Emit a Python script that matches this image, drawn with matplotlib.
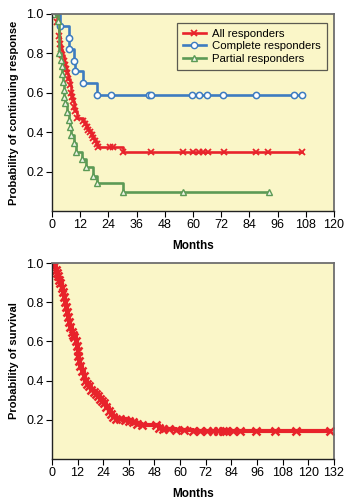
import numpy as np
import matplotlib
matplotlib.use("Agg")
import matplotlib.pyplot as plt

plt.rcParams["font.family"] = ["Liberation Sans", "DejaVu Sans"]

# --- top panel: duration of response (months, probability) ---
all_t = [0, 2.0, 3.0, 3.5, 4.0, 4.5, 5.0, 5.5, 6.0, 6.5, 7.0, 7.5, 8.0, 8.5, 9.0,
         9.5, 10.0, 10.6, 13.4, 14.1, 14.8, 15.5, 16.2, 17.0, 17.7, 18.4, 19.1,
         19.8, 30.4]
all_p = [1.0, 0.96, 0.89, 0.85, 0.82, 0.79, 0.76, 0.74, 0.72, 0.70, 0.67, 0.64,
         0.60, 0.58, 0.56, 0.53, 0.51, 0.47, 0.455, 0.44, 0.425, 0.41, 0.40,
         0.385, 0.37, 0.355, 0.34, 0.327, 0.30]
all_cens_t = [24.8, 26.2, 42.0, 55.6, 59.9, 62.7, 64.4, 66.5, 73.2, 86.7, 92.0, 106.6]
all_cens_p = [0.327, 0.327, 0.30, 0.30, 0.30, 0.30, 0.30, 0.30, 0.30, 0.30, 0.30, 0.30]
all_end = 106.6

cr_t = [0, 3.3, 7.3, 9.2, 9.9, 13.4, 19.1]
cr_p = [1.0, 0.94, 0.82, 0.76, 0.71, 0.65, 0.59]
cr_mark_t = [0, 3.5, 7.3, 7.3, 9.2, 9.9, 13.4, 19.1, 25.0, 41.3, 42.0, 59.7,
             62.7, 66.0, 72.9, 86.7, 102.9, 106.6]
cr_mark_p = [1.0, 0.94, 0.88, 0.82, 0.76, 0.71, 0.65, 0.59, 0.59, 0.59, 0.59,
             0.59, 0.59, 0.59, 0.59, 0.59, 0.59, 0.59]
cr_end = 106.6

pr_t = [0, 2.8, 3.1, 4.0, 4.4, 4.7, 5.0, 5.4, 6.4, 7.1, 7.5, 8.1, 9.2, 10.3,
        12.7, 14.6, 17.3, 19.2, 30.3]
pr_p = [1.0, 0.966, 0.80, 0.766, 0.695, 0.657, 0.58, 0.546, 0.504, 0.462,
        0.425, 0.386, 0.343, 0.30, 0.262, 0.222, 0.18, 0.14, 0.098]
pr_mark_t = [0.4, 2.8, 3.1, 4.0, 4.4, 4.4, 4.7, 5.0, 5.0, 5.4, 6.4, 7.1, 7.5,
             8.1, 9.2, 10.3, 12.7, 14.6, 17.3, 19.2, 30.3, 55.6, 92.4]
pr_mark_p = [1.0, 0.966, 0.80, 0.766, 0.738, 0.695, 0.657, 0.614, 0.58, 0.546,
             0.504, 0.462, 0.425, 0.386, 0.343, 0.30, 0.262, 0.222, 0.18, 0.14,
             0.098, 0.098, 0.098]
pr_end = 92.4

# --- bottom panel: overall survival ---
surv_t = [0, 1.0, 2.0, 2.5, 3.0, 3.5, 4.0, 4.5, 5.0, 5.5, 6.2, 6.6, 7.0, 7.5,
          8.0, 8.6, 9.2, 9.8, 10.5, 11.2, 11.6, 12.0, 12.4, 12.8, 13.2, 14.0,
          14.8, 15.5, 16.5, 17.5, 18.5, 19.5, 20.5, 21.5, 22.5, 23.5, 24.5,
          25.5, 26.5, 27.5, 28.5, 30.0, 32.0, 34.0, 36.0, 38.0, 40.0, 42.0,
          48.5, 50.0, 52.0, 55.0, 58.0, 62.0, 66.0]
surv_p = [1.0, 0.985, 0.965, 0.95, 0.935, 0.915, 0.90, 0.875, 0.85, 0.825,
          0.80, 0.775, 0.75, 0.725, 0.70, 0.675, 0.65, 0.635, 0.62, 0.60,
          0.575, 0.55, 0.525, 0.50, 0.475, 0.45, 0.425, 0.40, 0.385, 0.37,
          0.35, 0.34, 0.33, 0.32, 0.305, 0.295, 0.285, 0.265, 0.245, 0.23,
          0.215, 0.205, 0.205, 0.20, 0.195, 0.19, 0.18, 0.175, 0.175, 0.16,
          0.155, 0.155, 0.15, 0.148, 0.141]
surv_cens_t = [69.3, 72.4, 75.5, 77.8, 80.2, 81.7, 84.8, 87.9, 95.7, 104.3,
               114.4, 130.0]
surv_cens_p = [0.141] * 12
surv_end = 130.0

RED = "#e8232b"
BLUE = "#3d7cc0"
GREEN = "#5c9a55"
BG = "#faf6c8"


def km_step(ax, t, p, end, color, lw=1.9):
    ax.step(list(t) + [end], list(p) + [p[-1]], where="post", color=color, lw=lw)


def style_axes(ax, xmax, ylabel):
    ax.set_facecolor(BG)
    ax.set_xlim(0, xmax)
    ax.set_ylim(0, 1.0)
    ax.set_xticks(np.arange(0, xmax + 1, 12))
    ax.set_yticks([0.2, 0.4, 0.6, 0.8, 1.0])
    ax.set_yticklabels(["0.2", "0.4", "0.6", "0.8", "1.0"])
    ax.tick_params(direction="out", length=4, labelsize=9, pad=2,
                   top=False, right=False)
    for side in ["left", "bottom"]:
        ax.spines[side].set_color("#222222")
        ax.spines[side].set_linewidth(1.0)
    for side in ["top", "right"]:
        ax.spines[side].set_color("#6e6e6e")
        ax.spines[side].set_linewidth(1.3)
    ax.set_xlabel("Months", fontsize=8.5, fontweight="bold", labelpad=6)
    ax.set_ylabel(ylabel, fontsize=8, fontweight="bold", labelpad=5)


fig = plt.figure(figsize=(3.53, 5.0), dpi=100)
ax1 = fig.add_axes([0.147, 0.578, 0.799, 0.394])
ax2 = fig.add_axes([0.147, 0.082, 0.799, 0.392])

# Top panel
km_step(ax1, all_t, all_p, all_end, RED)
ax1.plot(all_t[1:] + all_cens_t, all_p[1:] + all_cens_p, ls="none", marker="x",
         ms=4.5, mew=1.3, color=RED)
km_step(ax1, cr_t, cr_p, cr_end, BLUE)
ax1.plot(cr_mark_t, cr_mark_p, ls="none", marker="o", ms=4.5, mew=1.1,
         mfc="white", mec=BLUE)
km_step(ax1, pr_t, pr_p, pr_end, GREEN)
ax1.plot(pr_mark_t, pr_mark_p, ls="none", marker="^", ms=5, mew=1.0,
         mfc="#eef3e6", mec=GREEN)

h_all, = ax1.plot([], [], color=RED, lw=1.9, marker="x", ms=4.5, mew=1.3)
h_cr, = ax1.plot([], [], color=BLUE, lw=1.9, marker="o", ms=4.5, mfc="white", mec=BLUE)
h_pr, = ax1.plot([], [], color=GREEN, lw=1.9, marker="^", ms=5, mfc="#eef3e6", mec=GREEN)
leg = ax1.legend([h_all, h_cr, h_pr],
                 ["All responders", "Complete responders", "Partial responders"],
                 loc="upper right", bbox_to_anchor=(0.975, 0.955), borderaxespad=0,
                 fontsize=8.2, frameon=True, fancybox=False, handlelength=2.0,
                 labelspacing=0.25, borderpad=0.5, handletextpad=0.6)
leg.get_frame().set_edgecolor("#333333")
leg.get_frame().set_facecolor(BG)
leg.get_frame().set_linewidth(0.9)

style_axes(ax1, 120, "Probability of continuing response")

# Bottom panel
km_step(ax2, surv_t, surv_p, surv_end, RED, lw=3.0)
ax2.plot(surv_t + surv_cens_t, surv_p + surv_cens_p, ls="none", marker="x",
         ms=6, mew=1.8, color=RED)
style_axes(ax2, 132, "Probability of survival")

fig.savefig("out.png", dpi=100)
